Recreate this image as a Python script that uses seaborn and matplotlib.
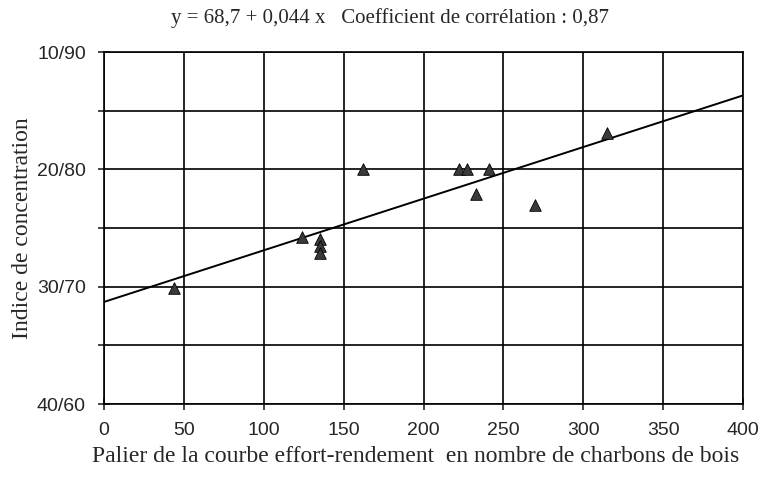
import numpy as np
import pandas as pd
import seaborn as sns
import matplotlib.pyplot as plt

sns.set_style('white')
plt.rcParams['font.family'] = ['Liberation Serif', 'DejaVu Serif']

# Data
palier = [44, 124, 135, 135, 135, 162, 222, 227, 241, 233, 270, 315]
indice = [69.9, 74.2, 74.1, 73.5, 72.9, 80.0, 80.0, 80.0, 80.0, 77.9, 77.0, 83.1]

# Regression equation given in the title
intercept = 68.7
slope = 0.044
line_x = [0, 400]

ytick_pos = [60, 70, 80, 90]
ytick_labels = ['40/60', '30/70', '20/80', '10/90']
xtick_pos = [0, 50, 100, 150, 200, 250, 300, 350, 400]

df = pd.DataFrame({'palier': palier, 'indice': indice})
fit = pd.DataFrame({'x': line_x, 'y': [intercept + slope * v for v in line_x]})

fig = plt.figure(figsize=(7.71, 4.82), dpi=100)
ax = fig.add_axes([0.1349, 0.1618, 0.8288, 0.7303])

# Regression line and points
sns.lineplot(data=fit, x='x', y='y', color='black', linewidth=1.4, ax=ax)
sns.scatterplot(data=df, x='palier', y='indice', marker='^', s=70,
                color='#3a3a3a', edgecolor='black', linewidth=0.6, ax=ax, zorder=3)

ax.set_xlim(0, 400)
ax.set_ylim(60, 90)

# Grid every 50 horizontally, every 5 vertically
ax.set_xticks(xtick_pos)
ax.set_yticks(np.arange(60, 91, 5), minor=True)
ax.set_yticks(ytick_pos)
ax.set_yticklabels(ytick_labels)
ax.grid(True, which='both', color='black', linewidth=1.2)
ax.set_axisbelow(True)

for spine in ax.spines.values():
    spine.set_color('black')
    spine.set_linewidth(1.2)

tick_font = ['Liberation Sans Narrow', 'Liberation Sans', 'DejaVu Sans']
ax.tick_params(axis='x', which='both', direction='inout', length=8, width=1.2,
               labelsize=14, pad=9, bottom=True)
ax.tick_params(axis='y', which='both', direction='inout', length=8, width=1.2,
               labelsize=14, pad=9, left=True)
for lbl in ax.get_xticklabels() + ax.get_yticklabels():
    lbl.set_family(tick_font)

fig.text(0.506, 0.962, 'y = 68,7 + 0,044 x   Coefficient de corrélation : 0,87',
         fontsize=15, ha='center', va='center')

ax.set_xlabel('Palier de la courbe effort-rendement  en nombre de charbons de bois',
              fontsize=17)
ax.xaxis.set_label_coords(0.488, -0.148)
ax.xaxis.label.set_va('center')

ax.set_ylabel('Indice de concentration', fontsize=17)
ax.yaxis.set_label_coords(-0.128, 0.5)
ax.yaxis.label.set_va('center')

fig.savefig('out.png', dpi=100)
